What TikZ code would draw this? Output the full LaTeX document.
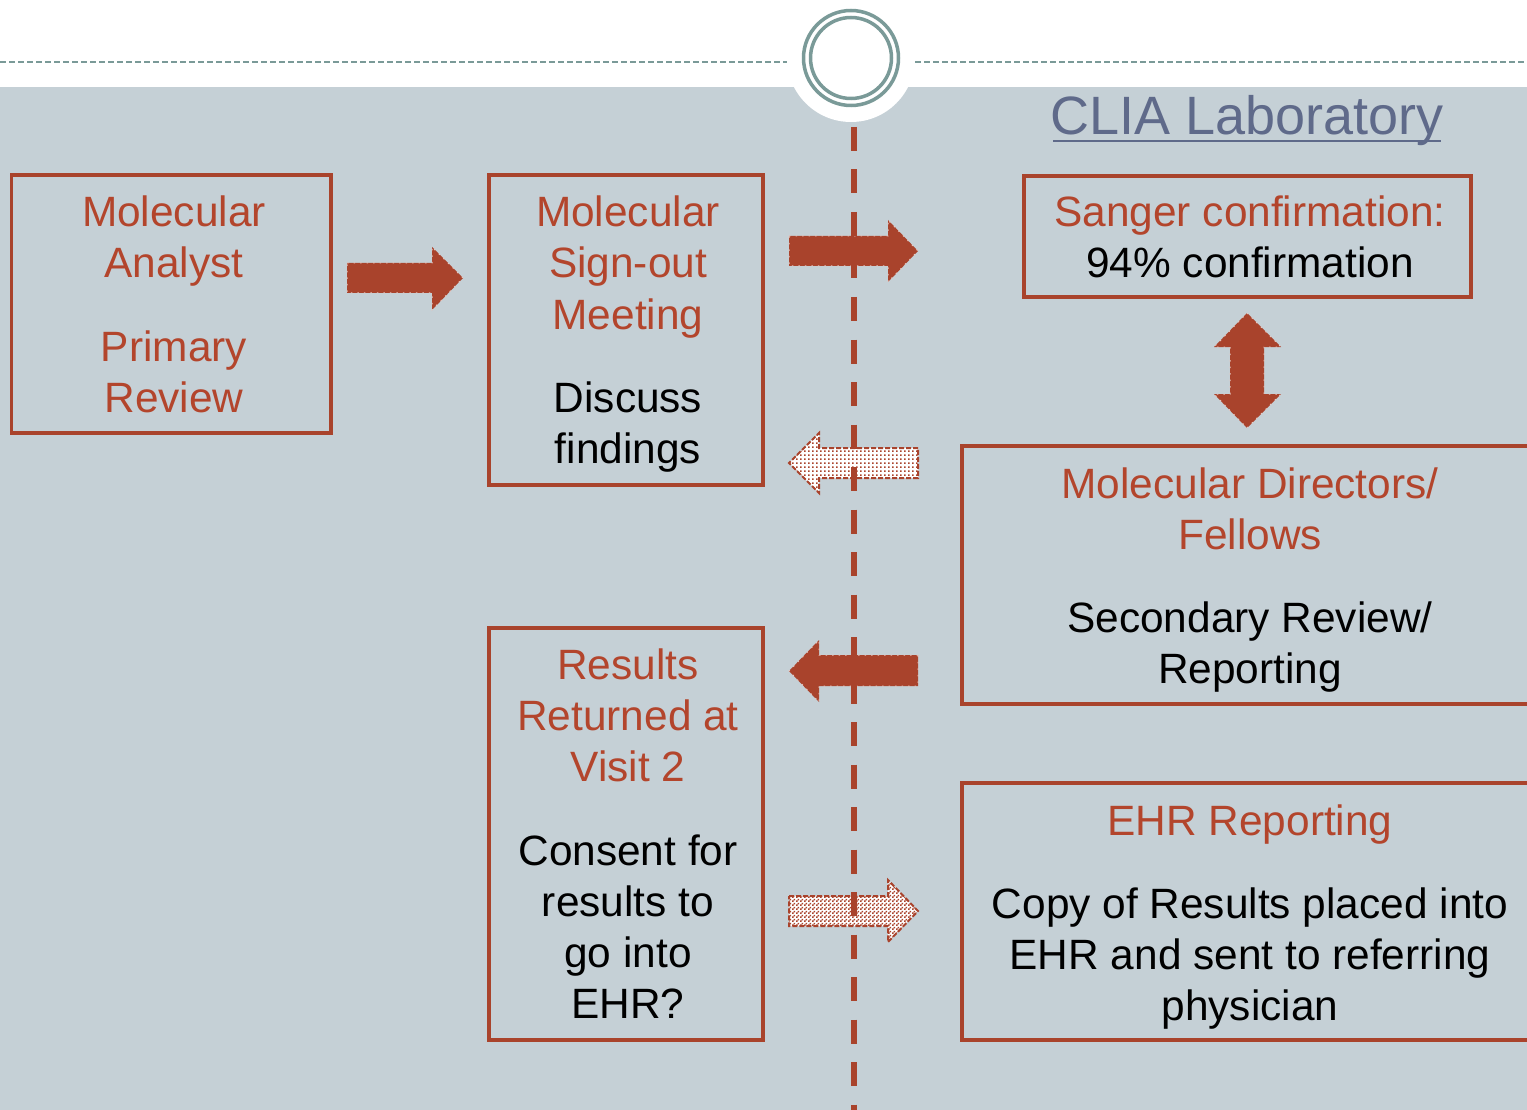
\documentclass[tikz,border=0pt]{standalone}
\usepackage{fontspec}
\setmainfont{Liberation Sans}
\usetikzlibrary{patterns}
\pgfdeclarepatternformonly{bigdots}{\pgfqpoint{0pt}{0pt}}{\pgfqpoint{3.7pt}{3.7pt}}{\pgfqpoint{3.7pt}{3.7pt}}{\pgfpathrectangle{\pgfqpoint{0pt}{0pt}}{\pgfqpoint{1.8pt}{1.8pt}}\pgfusepath{fill}}
\pgfdeclarepatternformonly{checker}{\pgfqpoint{0pt}{0pt}}{\pgfqpoint{4pt}{4pt}}{\pgfqpoint{4pt}{4pt}}{\pgfpathrectangle{\pgfqpoint{0pt}{0pt}}{\pgfqpoint{2pt}{2pt}}\pgfpathrectangle{\pgfqpoint{2pt}{2pt}}{\pgfqpoint{2pt}{2pt}}\pgfusepath{fill}}
\definecolor{bgc}{HTML}{C5D0D6}
\definecolor{rust}{HTML}{A9432C}
\definecolor{ttlc}{HTML}{B3452C}
\definecolor{ringc}{HTML}{7A9A98}
\definecolor{cliac}{HTML}{5F6A8A}
\newcommand\boxfont{\fontsize{42.4}{51}\selectfont}
\newcommand\cliafont{\fontsize{54}{64}\selectfont}
\tikzset{
  box/.style={draw=rust, line width=3.5pt, rectangle, inner sep=0pt},
  ttl/.style={text=ttlc, font=\boxfont, anchor=base, inner sep=0pt},
  txt/.style={text=black, font=\boxfont, anchor=base, inner sep=0pt},
  solidarrow/.style={fill=rust, draw=rust!30!white, line width=1pt, dash pattern=on 1.5pt off 5pt},
  dotarrow/.style={preaction={fill=white}, pattern=bigdots, pattern color=rust, draw=rust, line width=2pt, dash pattern=on 5pt off 2pt},
  checkarrow/.style={preaction={fill=white}, pattern=checker, pattern color=rust, draw=rust, line width=2pt, dash pattern=on 5pt off 2pt},
  ringline/.style={draw=ringc, line width=3.5pt},
  sepline/.style={draw=rust, line width=6pt, dash pattern=on 24pt off 18.5pt},
  topline/.style={draw=ringc, line width=1.5pt, dash pattern=on 6pt off 3pt}
}
\begin{document}
\begin{tikzpicture}[x=1pt,y=-1pt]
\useasboundingbox (0,0) rectangle (1527,1110);
\clip (0,0) rectangle (1527,1110);
% background
\fill[white] (0,0) rectangle (1527,1110);
\fill[bgc] (0,87) rectangle (1527,1110);
% top dashed line and circle
\draw[topline] (0,62) -- (787,62);
\draw[topline] (915,62) -- (1527,62);
\fill[white] (851,58) circle (64);
\draw[ringline] (851,58) circle (47.5);
\draw[ringline] (851,58) circle (40.5);
% title
\node[text=cliac, font=\cliafont, anchor=base, inner sep=0pt] (clia) at (1247,135) {CLIA Laboratory};
\draw[cliac, line width=2.2pt] (1053,141) -- (1441,141);
% boxes
\node[box, minimum width=319.5pt, minimum height=258pt] (b1) at (171.25,304) {};
\node[box, minimum width=274pt, minimum height=310pt] (b2) at (626,330) {};
\node[box, minimum width=447pt, minimum height=121pt] (b3) at (1247.5,236.5) {};
\node[box, minimum width=578pt, minimum height=258pt] (b4) at (1251,575) {};
\node[box, minimum width=274pt, minimum height=412pt] (b5) at (626,834) {};
\node[box, minimum width=578pt, minimum height=257pt] (b6) at (1251,911.5) {};
% box 1 text
\node[ttl] (t11) at (174,227) {Molecular};
\node[ttl] (t12) at (174,278) {Analyst};
\node[ttl] (t13) at (174,361) {Primary};
\node[ttl] (t14) at (174,412) {Review};
% box 2 text
\node[ttl] (t21) at (628,227) {Molecular};
\node[ttl] (t22) at (628,278) {Sign-out};
\node[ttl] (t23) at (628,329) {Meeting};
\node[txt] (t24) at (628,412) {Discuss};
\node[txt] (t25) at (628,463) {findings};
% box 3 text
\node[ttl] (t31) at (1250,227) {Sanger confirmation:};
\node[txt] (t32) at (1250,278) {94\% confirmation};
% box 4 text
\node[ttl] (t41) at (1250,498) {Molecular Directors/};
\node[ttl] (t42) at (1250,549) {Fellows};
\node[txt] (t43) at (1250,632) {Secondary Review/};
\node[txt] (t44) at (1250,683) {Reporting};
% box 5 text
\node[ttl] (t51) at (628,679) {Results};
\node[ttl] (t52) at (628,730) {Returned at};
\node[ttl] (t53) at (628,781) {Visit 2};
\node[txt] (t54) at (628,865) {Consent for};
\node[txt] (t55) at (628,916) {results to};
\node[txt] (t56) at (628,967) {go into};
\node[txt] (t57) at (628,1018) {EHR?};
% box 6 text
\node[ttl] (t61) at (1250,835) {EHR Reporting};
\node[txt] (t62) at (1250,918) {Copy of Results placed into};
\node[txt] (t63) at (1250,969) {EHR and sent to referring};
\node[txt] (t64) at (1250,1020) {physician};
% block arrows
\path[solidarrow] (347,263) -- (432,263) -- (432,247) -- (463,278) -- (432,310) -- (432,293) -- (347,293) -- cycle;
\path[solidarrow] (789,236) -- (888,236) -- (888,220) -- (918,251) -- (888,282) -- (888,266) -- (789,266) -- cycle;
\path[dotarrow] (918,448) -- (819,448) -- (819,433) -- (789,463) -- (819,493) -- (819,478) -- (918,478) -- cycle;
\path[solidarrow] (918,655) -- (819,655) -- (819,640) -- (789,671) -- (819,702) -- (819,686) -- (918,686) -- cycle;
\path[checkarrow] (789,896) -- (888,896) -- (888,880) -- (918,911) -- (888,942) -- (888,926) -- (789,926) -- cycle;
\path[solidarrow] (1247,313) -- (1281,347) -- (1264,347) -- (1264,394) -- (1281,394) -- (1247,428) -- (1214,394) -- (1230,394) -- (1230,347) -- (1214,347) -- cycle;
% separator
\coordinate (septop) at (854,127);
\coordinate (sepbot) at (854,1115);
\draw[sepline] (septop) -- (sepbot);
\end{tikzpicture}
\end{document}
